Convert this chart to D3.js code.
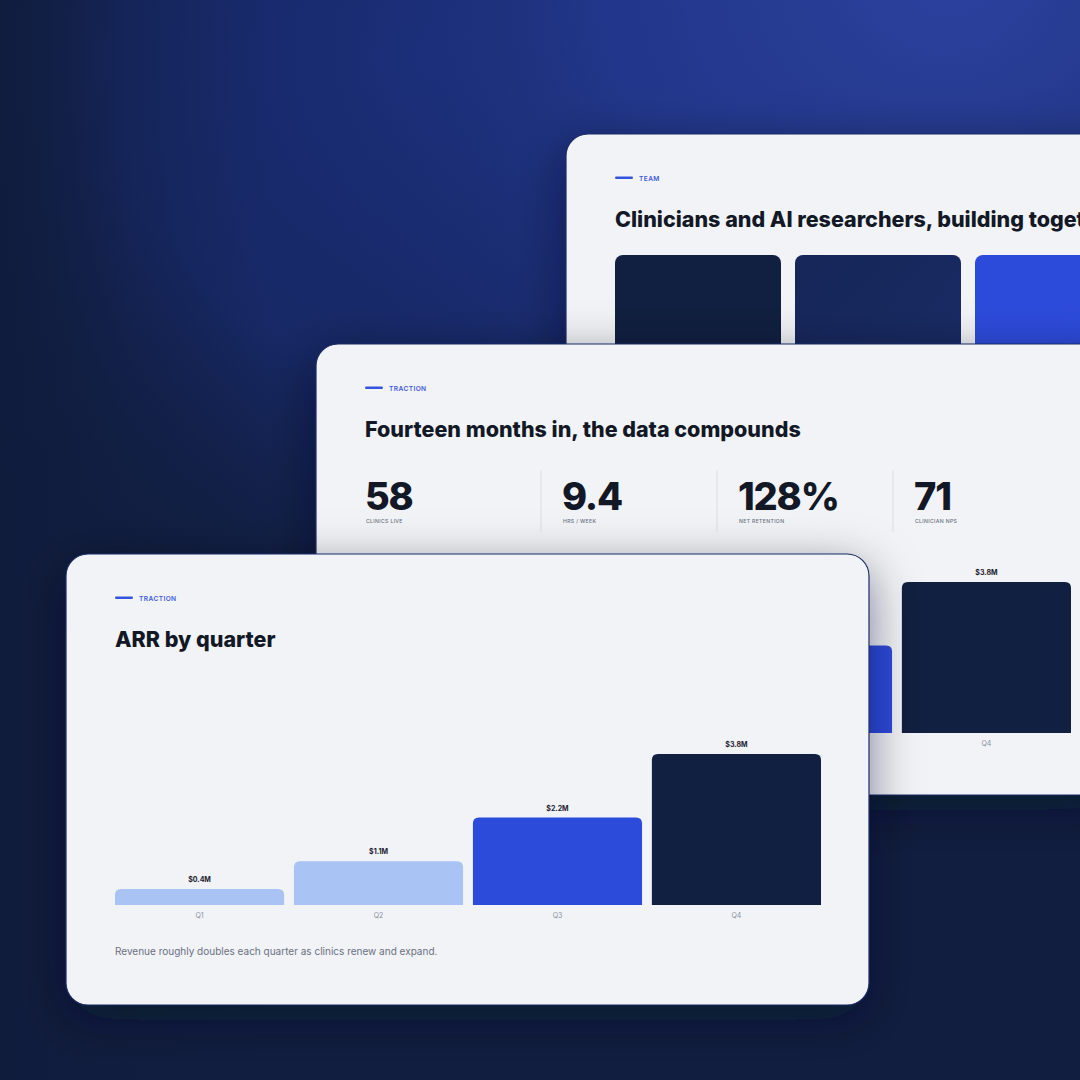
<!DOCTYPE html>
<html>
<head>
<meta charset="utf-8">
<script src="https://cdn.jsdelivr.net/npm/d3@7"></script>
<style>
  html, body { margin: 0; padding: 0; background: #111e40; }
  svg { display: block; font-family: Inter, "Noto Sans", sans-serif; }
</style>
</head>
<body>
<svg id="chart" width="1080" height="1080"></svg>
<script>
// ---- data ----
const quarters = ["Q1", "Q2", "Q3", "Q4"];
const arrValues = [0.4, 1.1, 2.2, 3.8];
const arrLabels = ["$0.4M", "$1.1M", "$2.2M", "$3.8M"];
const statValues = ["58", "9.4", "128%", "71"];
const statLabels = ["CLINICS LIVE", "HRS / WEEK", "NET RETENTION", "CLINICIAN NPS"];
const teamTiles = ["Clinicians", "Researchers", "Engineers"];

// ---- styles ----
const barColors = ["#a9c3f5", "#a9c3f5", "#2d4bdb", "#111f40"];
const tileColors = ["#111f40", "#172a62", "#2d4bdb"];
const cardW = 803, cardH = 451;

const svg = d3.select("#chart");
const defs = svg.append("defs");

// background gradients
const g1 = defs.append("radialGradient").attr("id", "glowR")
  .attr("gradientUnits", "userSpaceOnUse").attr("cx", 950).attr("cy", -40).attr("r", 700);
g1.append("stop").attr("offset", 0).attr("stop-color", "#2c42a0");
g1.append("stop").attr("offset", 0.5).attr("stop-color", "#243a92").attr("stop-opacity", 0.8);
g1.append("stop").attr("offset", 1).attr("stop-color", "#1a2c70").attr("stop-opacity", 0);
const g2 = defs.append("radialGradient").attr("id", "glowL")
  .attr("gradientUnits", "userSpaceOnUse").attr("cx", 420).attr("cy", 60).attr("r", 620);
g2.append("stop").attr("offset", 0).attr("stop-color", "#1a2d76");
g2.append("stop").attr("offset", 0.5).attr("stop-color", "#182a6c").attr("stop-opacity", 0.85);
g2.append("stop").attr("offset", 1).attr("stop-color", "#111e40").attr("stop-opacity", 0);
const edge = defs.append("linearGradient").attr("id", "edgeL").attr("x1", 0).attr("x2", 1).attr("y1", 0).attr("y2", 0);
edge.append("stop").attr("offset", 0).attr("stop-color", "#101c3c").attr("stop-opacity", 0.9);
edge.append("stop").attr("offset", 0.12).attr("stop-color", "#101c3c").attr("stop-opacity", 0.3);
edge.append("stop").attr("offset", 0.25).attr("stop-color", "#101c3c").attr("stop-opacity", 0);

const tileGrad = defs.append("linearGradient").attr("id", "tile2").attr("x1", 0).attr("y1", 0).attr("x2", 1).attr("y2", 1);
tileGrad.append("stop").attr("offset", 0).attr("stop-color", "#162658");
tileGrad.append("stop").attr("offset", 1).attr("stop-color", "#1a2c68");

const shadow = defs.append("filter").attr("id", "shadow")
  .attr("x", -0.2).attr("y", -0.2).attr("width", 1.4).attr("height", 1.5);
shadow.append("feDropShadow").attr("dx", 0).attr("dy", 14).attr("stdDeviation", 24)
  .attr("flood-color", "#050b1f").attr("flood-opacity", 0.5);

svg.append("rect").attr("width", 1080).attr("height", 1080).attr("fill", "#111e40");
svg.append("rect").attr("width", 1080).attr("height", 1080).attr("fill", "url(#glowL)");
svg.append("rect").attr("width", 1080).attr("height", 1080).attr("fill", "url(#glowR)");
svg.append("rect").attr("width", 1080).attr("height", 1080).attr("fill", "url(#edgeL)");

// rounded-top bar path
function topRounded(x, y, w, h, r) {
  r = Math.min(r, h, w / 2);
  return `M${x},${y + h}V${y + r}Q${x},${y} ${x + r},${y}H${x + w - r}Q${x + w},${y} ${x + w},${y + r}V${y + h}Z`;
}

function card(x0, y0) {
  const g = svg.append("g").attr("transform", `translate(${x0},${y0})`);
  g.append("rect").attr("width", cardW).attr("height", cardH).attr("rx", 22)
    .attr("fill", "#f1f3f7").attr("stroke", "#1c2a66").attr("stroke-width", 1.2)
    .attr("filter", "url(#shadow)");
  return g;
}

function tag(g, text) {
  g.append("rect").attr("x", 49).attr("y", 42.5).attr("width", 18).attr("height", 2.6)
    .attr("rx", 1.3).attr("fill", "#3454e0");
  g.append("text").attr("x", 73).attr("y", 46.5).attr("font-size", 6.6).attr("font-weight", 600)
    .attr("letter-spacing", 0.4).attr("fill", "#3d5ae0").text(text);
}

function title(g, text) {
  g.append("text").attr("x", 49).attr("y", 92.5).attr("font-size", 21.5).attr("font-weight", 800)
    .attr("letter-spacing", 0).attr("fill", "#131826").text(text);
}

function barChart(g, baseY) {
  const x = d3.scaleBand().domain(quarters).range([49, 755]).paddingInner(0.055).paddingOuter(0);
  const y = d3.scaleLinear().domain([0, 3.8]).range([baseY, baseY - 151]);
  const bars = g.append("g");
  bars.selectAll("path").data(quarters).join("path")
    .attr("d", (q, i) => topRounded(x(q), y(arrValues[i]), x.bandwidth(), baseY - y(arrValues[i]), 6))
    .attr("fill", (q, i) => barColors[i]);
  bars.selectAll("text.val").data(quarters).join("text").attr("class", "val")
    .attr("x", q => x(q) + x.bandwidth() / 2)
    .attr("y", (q, i) => y(arrValues[i]) - 7)
    .attr("text-anchor", "middle").attr("font-size", 7).attr("font-weight", 700)
    .attr("fill", "#1c2130").text((q, i) => arrLabels[i]);
  const axis = d3.axisBottom(x).tickSize(0).tickPadding(8);
  const ax = g.append("g").attr("transform", `translate(0,${baseY})`).call(axis);
  ax.select(".domain").remove();
  ax.selectAll("text").attr("font-size", 7).attr("fill", "#8a909c").attr("font-family", "Inter, sans-serif");
}

// ---- top card (team) ----
const c1 = card(566, 134);
tag(c1, "TEAM");
title(c1, "Clinicians and AI researchers, building together");
c1.selectAll("rect.tile").data(teamTiles).join("rect").attr("class", "tile")
  .attr("x", (d, i) => 49 + i * 180).attr("y", 121).attr("width", 166).attr("height", 200)
  .attr("rx", 8).attr("fill", (d, i) => i === 1 ? "url(#tile2)" : tileColors[i]);

// ---- middle card (stats + chart) ----
const c2 = card(316, 344);
tag(c2, "TRACTION");
title(c2, "Fourteen months in, the data compounds");
const sx = d3.scaleBand().domain(statLabels).range([49, 49 + 176 * 4]);
statLabels.forEach((lab, i) => {
  const colX = sx(lab);
  if (i > 0) {
    c2.append("line").attr("x1", colX).attr("x2", colX).attr("y1", 126).attr("y2", 188)
      .attr("stroke", "#dcdfe6").attr("stroke-width", 1);
  }
  const tx = i === 0 ? colX : colX + 21;
  c2.append("text").attr("x", tx).attr("y", 166).attr("font-size", 38).attr("font-weight", 800)
    .attr("letter-spacing", -1.2).attr("fill", "#131826").text(statValues[i]);
  c2.append("text").attr("x", tx + 1).attr("y", 178.5).attr("font-size", 5.2).attr("font-weight", 500)
    .attr("letter-spacing", 0.3).attr("fill", "#6b7280").text(lab);
});
barChart(c2, 389);

// ---- front card (ARR chart) ----
const c3 = card(66, 554);
tag(c3, "TRACTION");
title(c3, "ARR by quarter");
barChart(c3, 351);
c3.append("text").attr("x", 49).attr("y", 401).attr("font-size", 10).attr("fill", "#6b7080")
  .text("Revenue roughly doubles each quarter as clinics renew and expand.");
</script>
</body>
</html>
